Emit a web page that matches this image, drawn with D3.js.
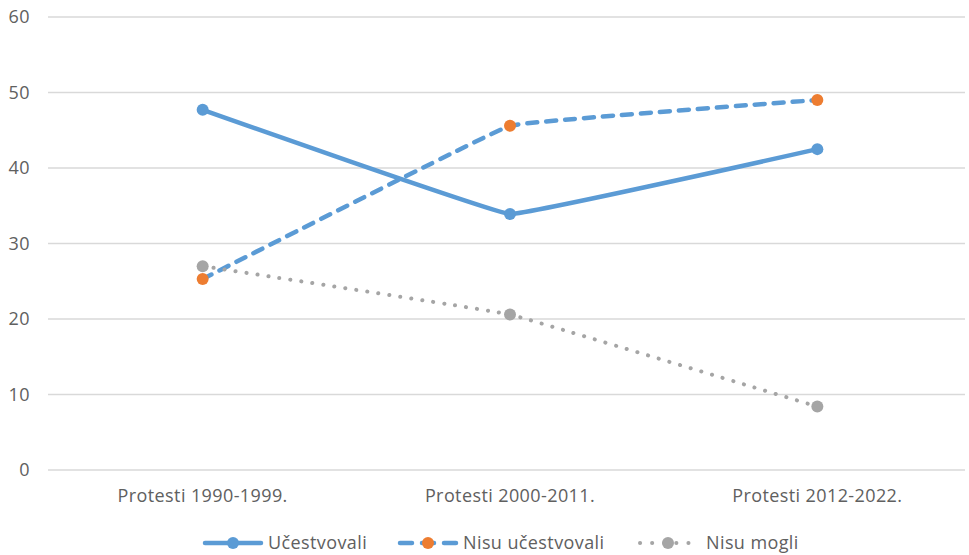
<!DOCTYPE html>
<meta charset="utf-8">
<style>
  body { margin: 0; background: #fff; }
  text { font-family: "Open Sans", "Noto Sans", Arial, sans-serif; fill: #606060; letter-spacing: 0.4px; }
  .grid line { stroke: #d9d9d9; stroke-width: 1.5; }
</style>
<body>
<div id="chart"></div>
<script src="https://d3js.org/d3.v7.min.js"></script>
<script>
var categories = ["Protesti 1990-1999.", "Protesti 2000-2011.", "Protesti 2012-2022."];
var ucestvovali = [47.7, 33.9, 42.5];
var nisuUcestvovali = [25.3, 45.6, 49.0];
var nisuMogli = [27.0, 20.6, 8.4];
var yTicks = [0, 10, 20, 30, 40, 50, 60];

var series = [
  { name: "Učestvovali", values: ucestvovali, line: "#5b9bd5", marker: "#5b9bd5", dash: null, width: 4.5, cap: "round" },
  { name: "Nisu učestvovali", values: nisuUcestvovali, line: "#5b9bd5", marker: "#ed7d31", dash: "10,9", width: 4.5, cap: "round" },
  { name: "Nisu mogli", values: nisuMogli, line: "#a5a5a5", marker: "#a5a5a5", dash: "0.1,11", width: 4, cap: "round" }
];

var width = 969, height = 555;
var margin = {top: 17, right: 4, bottom: 85, left: 48};

var svg = d3.select("#chart").append("svg")
    .attr("width", width)
    .attr("height", height);

var x = d3.scalePoint()
    .domain(categories)
    .range([49, 971])
    .padding(0.5);

var y = d3.scaleLinear()
    .domain([0, 60])
    .range([height - margin.bottom, margin.top]);

// gridlines
svg.append("g").attr("class", "grid")
  .selectAll("line")
    .data(yTicks)
  .enter().append("line")
    .attr("x1", margin.left)
    .attr("x2", width - margin.right)
    .attr("y1", function(d) { return y(d); })
    .attr("y2", function(d) { return y(d); });

// y axis labels
svg.append("g")
  .selectAll("text")
    .data(yTicks)
  .enter().append("text")
    .attr("x", 30)
    .attr("y", function(d) { return y(d); })
    .attr("dy", "0.35em")
    .attr("text-anchor", "end")
    .style("font-size", "18px")
    .text(function(d) { return d; });

// x axis labels
svg.append("g")
  .selectAll("text")
    .data(categories)
  .enter().append("text")
    .attr("x", function(d) { return x(d); })
    .attr("y", 502)
    .attr("text-anchor", "middle")
    .style("font-size", "18px")
    .text(function(d) { return d; });

var line = d3.line()
    .x(function(d, i) { return x(categories[i]); })
    .y(function(d) { return y(d); })
    .curve(d3.curveCardinal.tension(0.85));

series.forEach(function(s) {
  svg.append("path")
      .datum(s.values)
      .attr("d", line)
      .attr("fill", "none")
      .attr("stroke", s.line)
      .attr("stroke-width", s.width)
      .attr("stroke-linecap", s.cap)
      .attr("stroke-dasharray", s.dash);
});

series.forEach(function(s) {
  svg.append("g")
    .selectAll("circle")
      .data(s.values)
    .enter().append("circle")
      .attr("cx", function(d, i) { return x(categories[i]); })
      .attr("cy", function(d) { return y(d); })
      .attr("r", 6)
      .attr("fill", s.marker);
});

// legend
var legendX = [205, 400, 640];
var legendDash = [null, "12,10", "0.1,12"];
var legend = svg.append("g");
series.forEach(function(s, i) {
  var g = legend.append("g").attr("transform", "translate(" + legendX[i] + ",543)");
  g.append("line")
      .attr("x1", 0).attr("x2", 56)
      .attr("stroke", s.line)
      .attr("stroke-width", s.width)
      .attr("stroke-linecap", s.cap)
      .attr("stroke-dasharray", legendDash[i]);
  g.append("circle")
      .attr("cx", 28)
      .attr("r", 6)
      .attr("fill", s.marker);
  g.append("text")
      .attr("x", i === 2 ? 66 : 63)
      .attr("dy", "0.35em")
      .style("font-size", "18px")
      .text(s.name);
});
</script>
</body>
